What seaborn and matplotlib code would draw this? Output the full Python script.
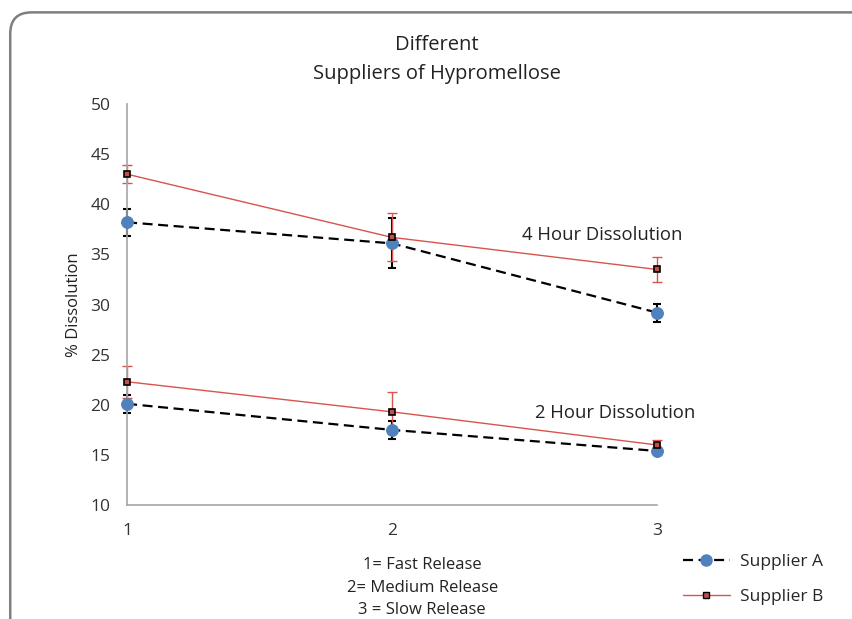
import pandas as pd
import matplotlib.pyplot as plt
import seaborn as sns
from matplotlib.patches import FancyBboxPatch
from matplotlib.lines import Line2D

release = [1, 2, 3]

# 4 hour dissolution
a_4h = [38.2, 36.1, 29.2]
a_4h_err = [1.35, 2.5, 0.9]
b_4h = [43.0, 36.7, 33.5]
b_4h_err = [0.9, 2.4, 1.25]

# 2 hour dissolution
a_2h = [20.1, 17.5, 15.4]
a_2h_err = [0.9, 0.9, 0.2]
b_2h = [22.3, 19.3, 16.0]
b_2h_err = [1.6, 2.0, 0.5]

sns.set_style('white')
plt.rcParams['font.family'] = ['Open Sans', 'DejaVu Sans']

fig = plt.figure(figsize=(8.53, 6.19), dpi=100)
ax = fig.add_axes([0.149, 0.184, 0.621, 0.648])

# rounded frame
frame = FancyBboxPatch((0.012, -0.05), 1.2, 1.03, boxstyle='round,pad=0,rounding_size=0.025',
                       transform=fig.transFigure, fill=False, edgecolor='#7f7f7f', lw=1.8,
                       mutation_aspect=853 / 619)
fig.patches.append(frame)

red = '#d9534f'
dash = (0, (4.5, 2.5))
for ys, es in [(a_4h, a_4h_err), (a_2h, a_2h_err)]:
    ax.errorbar(release, ys, yerr=es, fmt='none', ecolor='black', elinewidth=1.5, capsize=3,
                capthick=1.5, zorder=2, clip_on=False)
for ys, es in [(b_4h, b_4h_err), (b_2h, b_2h_err)]:
    ax.errorbar(release, ys, yerr=es, fmt='none', ecolor=red, elinewidth=1, capsize=3.5,
                capthick=1, zorder=2, clip_on=False)

for ys in [a_4h, a_2h]:
    df = pd.DataFrame({'release': release, 'val': ys})
    sns.lineplot(data=df, x='release', y='val', ax=ax, color='black', linestyle=dash, lw=1.6,
                 marker='o', markersize=8.5, markerfacecolor='#4f81bd', markeredgecolor='#4f81bd',
                 zorder=3, clip_on=False)
for ys in [b_4h, b_2h]:
    df = pd.DataFrame({'release': release, 'val': ys})
    sns.lineplot(data=df, x='release', y='val', ax=ax, color=red, lw=1,
                 marker='s', markersize=5, markerfacecolor='#c0504d', markeredgecolor='black',
                 markeredgewidth=1.2, zorder=4, clip_on=False)

ax.set_xlim(1, 3)
ax.set_ylim(10, 50)
ax.set_xticks(release)
ax.set_yticks(range(10, 51, 5))
ax.tick_params(axis='both', length=0, labelsize=12.5, colors='#333333')
ax.tick_params(axis='x', pad=13)
ax.tick_params(axis='y', pad=12)
for s in ['top', 'right']:
    ax.spines[s].set_visible(False)
for s in ['left', 'bottom']:
    ax.spines[s].set_color('#a6a6a6')
    ax.spines[s].set_linewidth(1.2)

ax.set_xlabel('1= Fast Release\n2= Medium Release\n3 = Slow Release', fontsize=12,
              linespacing=1.55, color='#222222')
ax.xaxis.set_label_coords(0.557, -0.13)
ax.set_ylabel('% Dissolution', fontsize=12, color='#222222', labelpad=6)
ax.set_title('Different\nSuppliers of Hypromellose', fontsize=14.5, linespacing=1.6,
             x=0.585, pad=18, color='#222222')

ax.text(2.49, 36.9, '4 Hour Dissolution', fontsize=13.3, va='center', ha='left', color='#222222')
ax.text(2.54, 19.2, '2 Hour Dissolution', fontsize=13.3, va='center', ha='left', color='#222222')

handles = [
    Line2D([], [], color='black', linestyle=dash, lw=1.6, marker='o', markersize=8,
           markerfacecolor='#4f81bd', markeredgecolor='#4f81bd'),
    Line2D([], [], color=red, lw=1, marker='s', markersize=5, markerfacecolor='#c0504d',
           markeredgecolor='black'),
]
fig.legend(handles, ['Supplier A', 'Supplier B'], loc='center left', bbox_to_anchor=(0.782, 0.064),
           frameon=False, fontsize=12.5, handlelength=2.7, handletextpad=0.6, labelspacing=1.1)

fig.savefig('out.png', dpi=100)
